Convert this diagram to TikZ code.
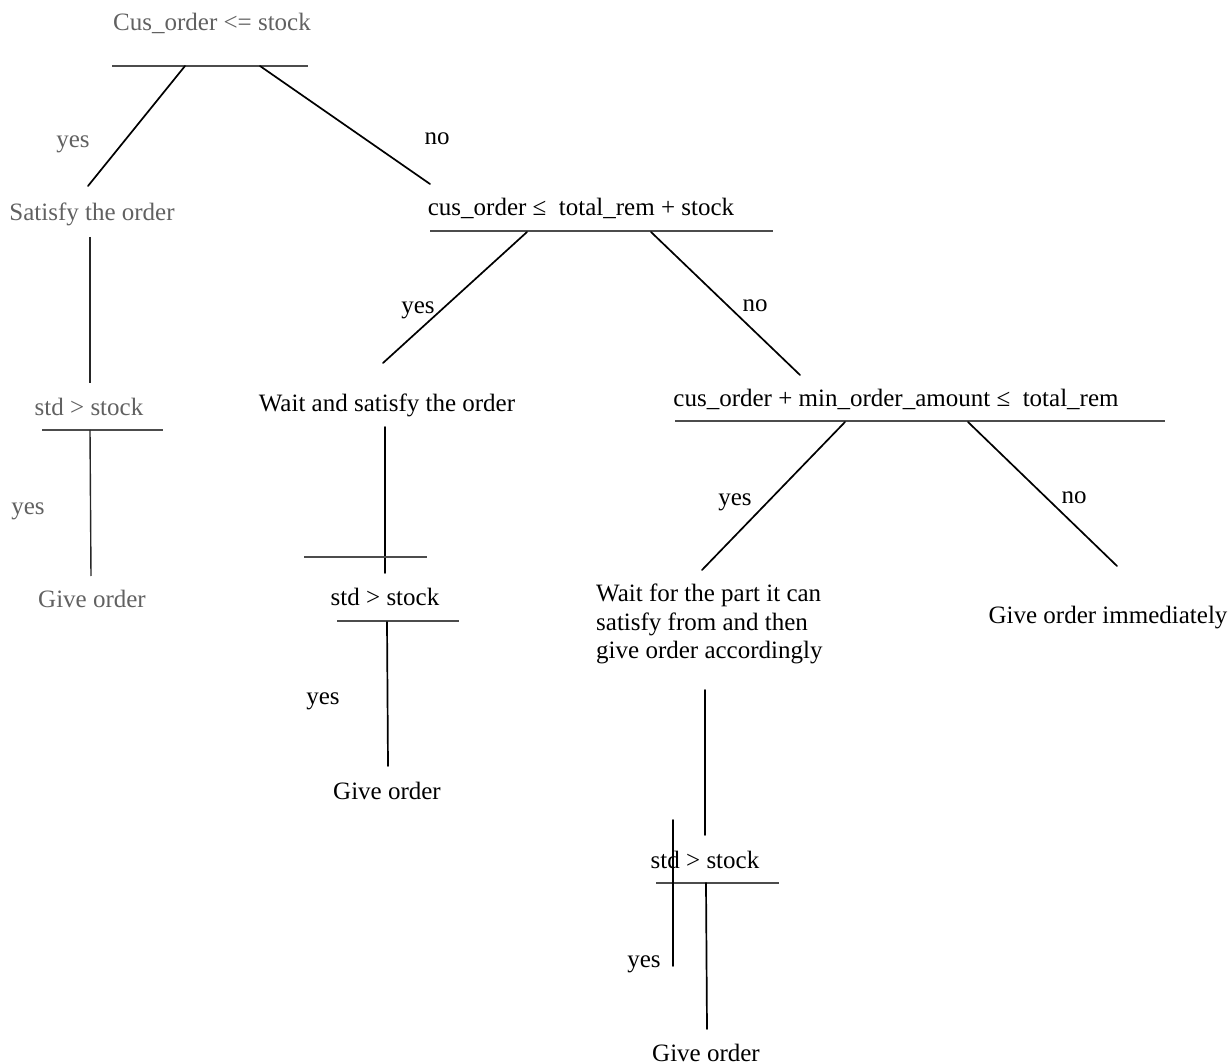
\documentclass[tikz,border=0pt]{standalone}
\usepackage{fontspec}
\setmainfont{Liberation Serif}
\begin{document}
\begin{tikzpicture}[x=1pt,y=-1pt,
  txt/.style={inner sep=0pt, anchor=base, font=\fontsize{25}{28.5}\selectfont},
  faint/.style={txt, text=black!62},
  rule/.style={line width=1.3pt, draw=black!70},
  edge/.style={line width=1.7pt, line cap=round},
  thinedge/.style={line width=1.4pt, draw=black!85},
]
\useasboundingbox (0,0) rectangle (1232,1064);

% ---- texts ----
\node[faint] (c1) at (212,31) {Cus\_order <= stock};
\node[faint] (y1) at (73,148) {yes};
\node[txt]   (n1) at (437,145) {no};
\node[faint] (a1) at (92,221) {Satisfy the order};
\node[txt]   (c2) at (581,216) {cus\_order ≤\ \ total\_rem + stock};
\node[txt]   (y2) at (418,314) {yes};
\node[txt]   (n2) at (755,312) {no};
\node[faint] (c3) at (89,416) {std > stock};
\node[txt]   (a2) at (387,412) {Wait and satisfy the order};
\node[txt]   (c4) at (896,407) {cus\_order + min\_order\_amount ≤\ \ total\_rem};
\node[faint] (y3) at (28,514) {yes};
\node[txt]   (y4) at (735,505) {yes};
\node[txt]   (n4) at (1074,503) {no};
\node[faint] (g1) at (92,607) {Give order};
\node[txt]   (c5) at (385,605) {std > stock};
\node[txt, anchor=west, align=left] (a3) at (596,624)
  {Wait for the part it can\\satisfy from and then\\give order accordingly};
\node[txt]   (a4) at (1108,623) {Give order immediately};
\node[txt]   (y5) at (323,704) {yes};
\node[txt]   (g2) at (387,799) {Give order};
\node[txt]   (c6) at (705,868) {std > stock};
\node[txt]   (y6) at (644,967) {yes};
\node[txt]   (g3) at (706,1061) {Give order};

% ---- end points of bars and branches ----
\coordinate (r1a) at (112,66);  \coordinate (r1b) at (308,66);
\coordinate (b1y) at (185,66);  \coordinate (t1y) at (88,186);
\coordinate (b1n) at (260,66);  \coordinate (t1n) at (430,184);
\coordinate (v1a) at (90,237);  \coordinate (v1b) at (90,383);
\coordinate (r2a) at (42,430);  \coordinate (r2b) at (163,430);
\coordinate (v2a) at (90,430);  \coordinate (v2b) at (91,576);

\coordinate (r3a) at (430,231); \coordinate (r3b) at (773,231);
\coordinate (b3y) at (527,232); \coordinate (t3y) at (383,363);
\coordinate (b3n) at (651,232); \coordinate (t3n) at (800,375);
\coordinate (v3a) at (385,427); \coordinate (v3b) at (385,573);
\coordinate (r4a) at (304,557); \coordinate (r4b) at (427,557);
\coordinate (r5a) at (337,621); \coordinate (r5b) at (459,621);
\coordinate (v5a) at (387,622); \coordinate (v5b) at (388,766);

\coordinate (r6a) at (675,421); \coordinate (r6b) at (1165,421);
\coordinate (b6y) at (845,422); \coordinate (t6y) at (702,570);
\coordinate (b6n) at (968,422); \coordinate (t6n) at (1117,566);
\coordinate (v6a) at (705,690); \coordinate (v6b) at (705,835);
\coordinate (r7a) at (656,883); \coordinate (r7b) at (779,883);
\coordinate (v7a) at (706,883); \coordinate (v7b) at (707,1029);
\coordinate (v8a) at (673,820); \coordinate (v8b) at (673,966);

% ---- first test ----
\draw[rule] (r1a) -- (r1b);
\draw[edge] (b1y) -- (t1y);
\draw[edge] (b1n) -- (t1n);
\draw[thinedge] (v1a) -- (v1b);
\draw[rule] (r2a) -- (r2b);
\draw[thinedge] (v2a) -- (v2b);

% ---- second test ----
\draw[rule] (r3a) -- (r3b);
\draw[edge] (b3y) -- (t3y);
\draw[edge] (b3n) -- (t3n);
\draw[edge] (v3a) -- (v3b);
\draw[rule] (r4a) -- (r4b);
\draw[rule] (r5a) -- (r5b);
\draw[edge] (v5a) -- (v5b);

% ---- third test ----
\draw[rule] (r6a) -- (r6b);
\draw[edge] (b6y) -- (t6y);
\draw[edge] (b6n) -- (t6n);
\draw[edge] (v6a) -- (v6b);
\draw[rule] (r7a) -- (r7b);
\draw[edge] (v7a) -- (v7b);
\draw[edge] (v8a) -- (v8b);
\end{tikzpicture}
\end{document}
